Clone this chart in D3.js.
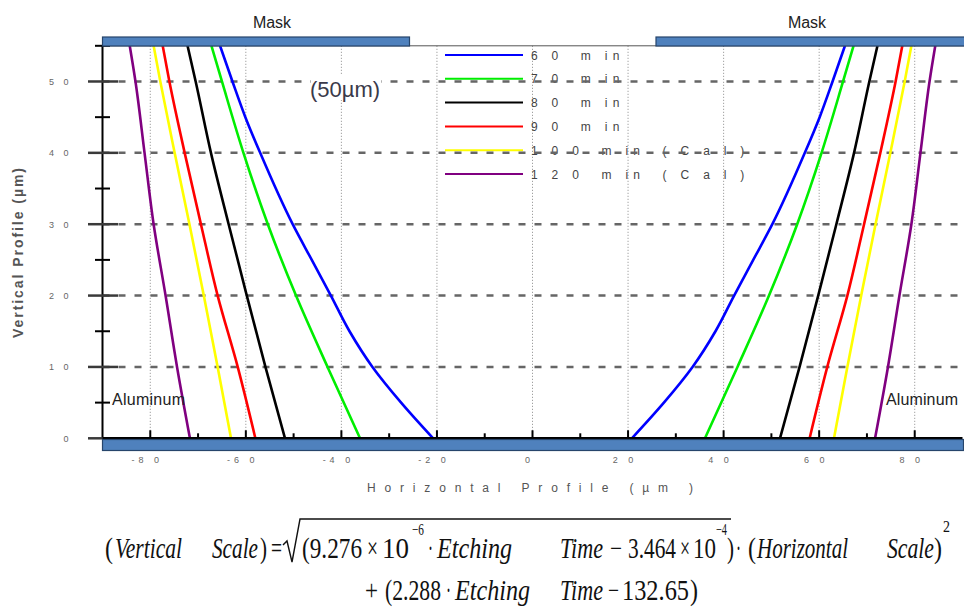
<!DOCTYPE html>
<html>
<head>
<meta charset="utf-8">
<script src="https://d3js.org/d3.v7.min.js"></script>
<style>
  body { margin: 0; background: #fff; }
  svg { display: block; }
  text { white-space: pre; }
</style>
</head>
<body>
<script>
var heights = [0, 10, 20, 30, 40, 50, 55];
var heights60 = [0, 5, 10, 15, 20, 25, 30, 40, 45, 50, 55];

// horizontal position (µm) of the right wall; the left wall is its mirror
var wall60 = [20.8, 27.5, 33.5, 38.3, 42.2, 46.2, 50.2, 57.0, 60.1, 62.8, 65.4];
var wall70 = [36.1, 42.9, 49.5, 55.4, 60.5, 65.0, 67.2];
var wall80 = [51.8, 55.9, 59.8, 63.6, 67.3, 70.5, 72.2];
var wall90 = [58.0, 61.7, 65.9, 69.4, 72.8, 76.0, 77.4];
var wall100 = [63.1, 65.9, 68.8, 71.8, 74.9, 77.9, 79.3];
var wall120 = [71.7, 74.4, 76.8, 79.3, 81.2, 83.1, 84.3];

var seriesNames = ["6 0  m in", "7 0  m in", "8 0  m in", "9 0  m in", "1 0 0  m in  ( C a l )", "1 2 0  m in  ( C a l )"];
var seriesColors = ["#0000ff", "#00ee00", "#000000", "#ff0000", "#ffff00", "#800080"];

var xGrid = [-80, -60, -40, -20, 0, 20, 40, 60, 80];
var xMinor = [-70, -50, -30, -10, 10, 30, 50, 70];
var yMajor = [0, 10, 20, 30, 40, 50];
var yMinor = [5, 15, 25, 35, 45, 55];

var series = [
    { name: seriesNames[0], color: seriesColors[0], h: heights60, w: wall60 },
    { name: seriesNames[1], color: seriesColors[1], h: heights, w: wall70 },
    { name: seriesNames[2], color: seriesColors[2], h: heights, w: wall80 },
    { name: seriesNames[3], color: seriesColors[3], h: heights, w: wall90 },
    { name: seriesNames[4], color: seriesColors[4], h: heights, w: wall100 },
    { name: seriesNames[5], color: seriesColors[5], h: heights, w: wall120 }
];

var svg = d3.select("body").append("svg")
    .attr("width", 964)
    .attr("height", 608);

var x = d3.scaleLinear().domain([-90, 90]).range([102.5, 962.5]);
var y = d3.scaleLinear().domain([0, 55]).range([438.3, 45.8]);

function spaced(d) {
    return (d < 0 ? "-" : "") + String(Math.abs(d)).split("").join(" ");
}

// dotted vertical grid
svg.append("g").selectAll("line")
    .data(xGrid).enter().append("line")
    .attr("x1", d => x(d)).attr("x2", d => x(d))
    .attr("y1", y(55)).attr("y2", y(0))
    .attr("stroke", "#8a8a8a")
    .attr("stroke-width", 1)
    .attr("stroke-dasharray", "1,2");

// legend (no box, the grid runs through it)
var legend = svg.append("g").attr("transform", "translate(445,55)");
series.forEach(function(s, i) {
    var row = legend.append("g").attr("transform", "translate(0," + (i * 23.8) + ")");
    row.append("line")
        .attr("x1", 0).attr("x2", 78)
        .attr("stroke", s.color)
        .attr("stroke-width", 2);
    row.append("text")
        .attr("x", 86).attr("y", 4.5)
        .attr("font-family", "Liberation Sans, Arial, sans-serif")
        .attr("font-size", 12)
        .attr("letter-spacing", 5.3)
        .attr("fill", "#444")
        .text(s.name);
});

// dashed horizontal grid
svg.append("g").selectAll("line")
    .data(yMajor.filter(d => d > 0)).enter().append("line")
    .attr("x1", x(-90)).attr("x2", 964)
    .attr("y1", d => y(d)).attr("y2", d => y(d))
    .attr("stroke", "#666")
    .attr("stroke-width", 2.5)
    .attr("stroke-dasharray", "7,9");

// etch profiles, each drawn as a left and a right wall
var line = d3.line()
    .x(d => x(d[0]))
    .y(d => y(d[1]))
    .curve(d3.curveMonotoneY);

series.forEach(function(s) {
    var right = s.h.map((h, i) => [s.w[i], h]);
    var left = right.map(p => [-p[0], p[1]]);
    [left, right].forEach(function(pts) {
        svg.append("path")
            .attr("d", line(pts))
            .attr("fill", "none")
            .attr("stroke", s.color)
            .attr("stroke-width", 2.6);
    });
});

// frame top line
svg.append("line")
    .attr("x1", x(-90)).attr("x2", 964)
    .attr("y1", y(55)).attr("y2", y(55))
    .attr("stroke", "#555").attr("stroke-width", 1);

// y axis
svg.append("line")
    .attr("x1", x(-90)).attr("x2", x(-90))
    .attr("y1", y(55)).attr("y2", y(0))
    .attr("stroke", "#000").attr("stroke-width", 2);
svg.append("g").selectAll("line")
    .data(yMajor).enter().append("line")
    .attr("x1", 88).attr("x2", 118)
    .attr("y1", d => y(d)).attr("y2", d => y(d))
    .attr("stroke", "#3a3a3a").attr("stroke-width", 2.5);
svg.append("g").selectAll("line")
    .data(yMinor).enter().append("line")
    .attr("x1", 95).attr("x2", 110)
    .attr("y1", d => y(d)).attr("y2", d => y(d))
    .attr("stroke", "#000").attr("stroke-width", 2);
svg.append("g").selectAll("text")
    .data(yMajor).enter().append("text")
    .attr("x", 72).attr("y", d => y(d) + 3.5)
    .attr("text-anchor", "end")
    .attr("font-family", "Liberation Sans, Arial, sans-serif")
    .attr("font-size", 9)
    .attr("letter-spacing", 3.5)
    .attr("fill", "#666")
    .text(spaced);

// x axis
svg.append("line")
    .attr("x1", x(-90)).attr("x2", x(90))
    .attr("y1", y(0)).attr("y2", y(0))
    .attr("stroke", "#000").attr("stroke-width", 2.5);
svg.append("g").selectAll("line")
    .data(xGrid).enter().append("line")
    .attr("x1", d => x(d)).attr("x2", d => x(d))
    .attr("y1", y(0)).attr("y2", y(0) - 8)
    .attr("stroke", "#000").attr("stroke-width", 2);
svg.append("g").selectAll("line")
    .data(xMinor).enter().append("line")
    .attr("x1", d => x(d)).attr("x2", d => x(d))
    .attr("y1", y(0)).attr("y2", y(0) - 5)
    .attr("stroke", "#000").attr("stroke-width", 2);
svg.append("g").selectAll("text")
    .data(xGrid).enter().append("text")
    .attr("x", d => x(d) - 3)
    .attr("y", 463)
    .attr("text-anchor", "middle")
    .attr("font-family", "Liberation Sans, Arial, sans-serif")
    .attr("font-size", 9)
    .attr("letter-spacing", 4)
    .attr("fill", "#666")
    .text(spaced);

// mask and substrate bars
var barFill = "#4f81bd", barStroke = "#27456b";
svg.append("rect").attr("x", x(-90)).attr("y", 439.5).attr("width", 861).attr("height", 11)
    .attr("fill", barFill).attr("stroke", barStroke).attr("stroke-width", 1.2);
svg.append("rect").attr("x", x(-90)).attr("y", 37).attr("width", 307).attr("height", 9)
    .attr("fill", barFill).attr("stroke", barStroke).attr("stroke-width", 1.2);
svg.append("rect").attr("x", 656).attr("y", 37).attr("width", 310).attr("height", 9)
    .attr("fill", barFill).attr("stroke", barStroke).attr("stroke-width", 1.2);

// annotations
function label(t, xx, yy, size, anchor, fill) {
    return svg.append("text")
        .attr("x", xx).attr("y", yy)
        .attr("text-anchor", anchor || "start")
        .attr("font-family", "Liberation Sans, Arial, sans-serif")
        .attr("font-size", size)
        .attr("fill", fill || "#222")
        .text(t);
}
label("Mask", 272, 28, 16, "middle");
label("Mask", 807, 28, 16, "middle");
svg.append("rect").attr("x", 311).attr("y", 74).attr("width", 70).attr("height", 26).attr("fill", "#fff");
label("(50\u00b5m)", 310, 97, 22, "start", "#3a3a4a").attr("textLength", 70);
label("Aluminum", 112, 405, 16, "start", "#222").attr("textLength", 73);
label("Aluminum", 886, 405, 16, "start", "#222").attr("textLength", 72);

// axis titles
label("Horizontal Profile (\u00b5m )", 367, 492, 12, "start", "#555")
    .attr("textLength", 326).attr("lengthAdjust", "spacing");
svg.append("text")
    .attr("transform", "translate(23,253) rotate(-90)")
    .attr("text-anchor", "middle")
    .attr("font-family", "Liberation Sans, Arial, sans-serif")
    .attr("font-size", 14)
    .attr("font-weight", "bold")
    .attr("fill", "#555")
    .attr("textLength", 170)
    .text("Vertical Profile (\u00b5m)");

// fitted equation under the chart
var eq = svg.append("g")
    .attr("font-family", "Liberation Serif, Times New Roman, serif")
    .attr("fill", "#111");
var pieces = [
    // line 1
    { t: "(", x: 105, y: 558, w: 8 },
    { t: "Vertical", x: 115, y: 558, w: 67, it: 1 },
    { t: "Scale", x: 212, y: 558, w: 46, it: 1 },
    { t: ")", x: 260, y: 558, w: 7 },
    { t: "=", x: 271, y: 558, w: 11 },
    { t: "(9.276", x: 302, y: 558, w: 60 },
    { t: "\u00d7", x: 367, y: 558, w: 11 },
    { t: "10", x: 382, y: 558, w: 27 },
    { t: "\u22126", x: 412, y: 535, w: 12, s: 16 },
    { t: "\u00b7", x: 428, y: 558, w: 5 },
    { t: "Etching", x: 437, y: 558, w: 75, it: 1 },
    { t: "Time", x: 560, y: 558, w: 43, it: 1 },
    { t: "\u2212", x: 610, y: 558, w: 12 },
    { t: "3.464", x: 628, y: 558, w: 48 },
    { t: "\u00d7", x: 680, y: 558, w: 10 },
    { t: "10", x: 693, y: 558, w: 23 },
    { t: "\u22124", x: 716, y: 535, w: 11, s: 16 },
    { t: ")", x: 727, y: 558, w: 7 },
    { t: "\u00b7", x: 736, y: 558, w: 5 },
    { t: "(", x: 748, y: 558, w: 8 },
    { t: "Horizontal", x: 757, y: 558, w: 91, it: 1 },
    { t: "Scale", x: 887, y: 558, w: 47, it: 1 },
    { t: ")", x: 934, y: 558, w: 8 },
    { t: "2", x: 943, y: 532, w: 7, s: 16 },
    // line 2
    { t: "+", x: 365, y: 600, w: 13 },
    { t: "(2.288", x: 385, y: 600, w: 56 },
    { t: "\u00b7", x: 446, y: 600, w: 5 },
    { t: "Etching", x: 455, y: 600, w: 75, it: 1 },
    { t: "Time", x: 560, y: 600, w: 43, it: 1 },
    { t: "\u2212", x: 608, y: 600, w: 11 },
    { t: "132.65", x: 622, y: 600, w: 67 },
    { t: ")", x: 690, y: 600, w: 8 }
];
eq.selectAll("text").data(pieces).enter().append("text")
    .attr("x", d => d.x).attr("y", d => d.y)
    .attr("font-size", d => d.s || 29)
    .attr("font-style", d => d.it ? "italic" : "normal")
    .attr("textLength", d => d.w)
    .attr("lengthAdjust", "spacingAndGlyphs")
    .text(d => d.t);
eq.append("path")
    .attr("d", "M283,545 L287,541 L292,562 L300,519 L731,519")
    .attr("fill", "none")
    .attr("stroke", "#111")
    .attr("stroke-width", 1.4);
</script>
</body>
</html>
